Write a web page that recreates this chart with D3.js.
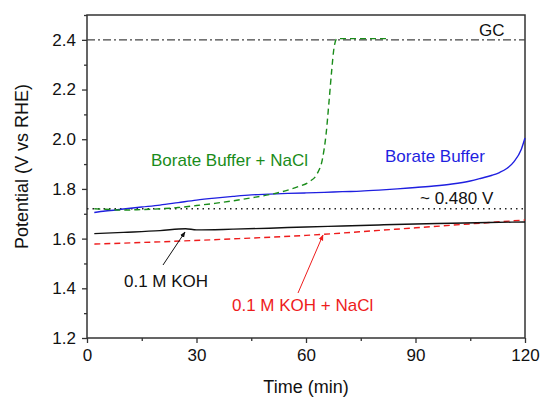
<!DOCTYPE html>
<html>
<head>
<meta charset="utf-8">
<script src="https://cdn.jsdelivr.net/npm/d3@7"></script>
<style>
  body { margin: 0; background: #fff; }
  text { font-family: "Liberation Sans", Arial, sans-serif; }
</style>
</head>
<body>
<div id="plot_area"></div>
<script>
// data
var kohTime   = [2, 10, 20, 27, 30, 40, 50, 60, 70, 80, 90, 100, 110, 120];
var kohValue  = [1.620, 1.625, 1.632, 1.640, 1.635, 1.638, 1.642, 1.647, 1.651, 1.655, 1.659, 1.662, 1.665, 1.667];

var kohNaclTime  = [2, 20, 40, 60, 80, 100, 120];
var kohNaclValue = [1.578, 1.587, 1.599, 1.613, 1.633, 1.654, 1.675];

var borateTime  = [2, 5, 10, 15, 20, 25, 30, 35, 40, 45, 50, 55, 60, 65, 70, 75, 80, 85, 90, 95, 100, 105, 108, 111, 113, 115, 117, 119, 120];
var borateValue = [1.705, 1.711, 1.719, 1.727, 1.735, 1.745, 1.755, 1.763, 1.770, 1.776, 1.779, 1.782, 1.784, 1.786, 1.789, 1.791, 1.795, 1.800, 1.806, 1.812, 1.820, 1.832, 1.843, 1.855, 1.866, 1.882, 1.910, 1.960, 2.005];

var borNaclTime  = [2, 5, 10, 15, 20, 25, 30, 35, 40, 45, 50, 55, 58, 61, 63, 64.5, 65.5, 66.3, 67, 67.7, 68.5, 70, 75, 80, 83];
var borNaclValue = [1.720, 1.718, 1.715, 1.717, 1.720, 1.725, 1.733, 1.742, 1.752, 1.764, 1.777, 1.795, 1.810, 1.830, 1.860, 1.920, 2.020, 2.150, 2.270, 2.370, 2.405, 2.405, 2.405, 2.405, 2.405];

var gcLevel = 2.4;
var refLevel = 1.72;

var xTicks = [0, 30, 60, 90, 120];
var yTicks = [1.2, 1.4, 1.6, 1.8, 2.0, 2.2, 2.4];

// set the dimensions and margins of the graph
var margin = {top: 15, right: 16, bottom: 61, left: 87},
    width = 541 - margin.left - margin.right,
    height = 399 - margin.top - margin.bottom;

var svg = d3.select("#plot_area")
  .append("svg")
    .attr("width", 541)
    .attr("height", 399)
  .append("g")
    .attr("transform", "translate(" + margin.left + "," + margin.top + ")");

var x = d3.scaleLinear().domain([0, 120]).range([0, width]);
var y = d3.scaleLinear().domain([1.2, 2.5]).range([height, 0]);

// minor ticks
svg.append("g")
  .attr("transform", "translate(0," + height + ")")
  .call(d3.axisBottom(x).tickValues([15, 45, 75, 105]).tickSize(3).tickFormat(""))
  .select(".domain").remove();
svg.append("g")
  .call(d3.axisLeft(y).tickValues([1.3, 1.5, 1.7, 1.9, 2.1, 2.3, 2.5]).tickSize(3).tickFormat(""))
  .select(".domain").remove();

// major ticks
var xAxis = svg.append("g")
  .attr("transform", "translate(0," + height + ")")
  .call(d3.axisBottom(x).tickValues(xTicks).tickSize(5).tickPadding(6).tickFormat(d3.format("d")));
var yAxis = svg.append("g")
  .call(d3.axisLeft(y).tickValues(yTicks).tickSize(5).tickPadding(6).tickFormat(d3.format(".1f")));

svg.selectAll(".tick text")
  .style("font-size", "17px")
  .style("font-family", "Liberation Sans, Arial, sans-serif")
  .attr("fill", "#111");
svg.selectAll(".tick line").attr("stroke", "#333").attr("stroke-width", 1.3);
svg.selectAll(".domain").remove();

// frame
svg.append("rect")
  .attr("width", width).attr("height", height)
  .attr("fill", "none").attr("stroke", "#333").attr("stroke-width", 1.5);

// reference lines
svg.append("line")
  .attr("x1", x(0)).attr("x2", x(120))
  .attr("y1", y(gcLevel)).attr("y2", y(gcLevel))
  .attr("stroke", "#444").attr("stroke-width", 1.3)
  .attr("stroke-dasharray", "8,3,2,3");
svg.append("line")
  .attr("x1", x(0)).attr("x2", x(120))
  .attr("y1", y(refLevel)).attr("y2", y(refLevel))
  .attr("stroke", "#222").attr("stroke-width", 1.4)
  .attr("stroke-dasharray", "1.5,4");

var line = d3.line()
  .x(function(d) { return x(d[0]); })
  .y(function(d) { return y(d[1]); })
  .curve(d3.curveMonotoneX);

function pairs(t, v) { return t.map(function(d, i) { return [d, v[i]]; }); }

var series = [
  {t: kohNaclTime, v: kohNaclValue, color: "#ee1c1c", dash: "6,4"},
  {t: kohTime, v: kohValue, color: "#111111", dash: null},
  {t: borateTime, v: borateValue, color: "#1f1fe0", dash: null},
  {t: borNaclTime, v: borNaclValue, color: "#1a8c1a", dash: "6,4"}
];

series.forEach(function(s) {
  svg.append("path")
    .datum(pairs(s.t, s.v))
    .attr("fill", "none")
    .attr("stroke", s.color)
    .attr("stroke-width", 1.4)
    .attr("stroke-dasharray", s.dash)
    .attr("d", line);
});

// arrow markers
var defs = d3.select("svg").append("defs");
[["arrBlack", "#111"], ["arrRed", "#ee1c1c"]].forEach(function(m) {
  defs.append("marker")
    .attr("id", m[0])
    .attr("viewBox", "0 0 10 10")
    .attr("refX", 9).attr("refY", 5)
    .attr("markerWidth", 6).attr("markerHeight", 6)
    .attr("orient", "auto")
    .append("path")
      .attr("d", "M0,1 L10,5 L0,9 z")
      .attr("fill", m[1]);
});

// annotations (page coordinates shifted into the plot group)
function ann(px, py, txt, color, anchor) {
  svg.append("text")
    .attr("x", px - margin.left).attr("y", py - margin.top)
    .attr("text-anchor", anchor || "start")
    .style("font-size", "17px")
    .attr("fill", color)
    .text(txt);
}
ann(151, 166, "Borate Buffer + NaCl", "#1a8c1a");
ann(385, 162, "Borate Buffer", "#1f1fe0");
ann(420, 204, "~ 0.480 V", "#111");
ann(479, 36, "GC", "#111");
ann(124, 287, "0.1 M KOH", "#111");
ann(232, 311, "0.1 M KOH + NaCl", "#ee1c1c");

svg.append("line")
  .attr("x1", 163 - margin.left).attr("y1", 265 - margin.top)
  .attr("x2", 185 - margin.left).attr("y2", 232 - margin.top)
  .attr("stroke", "#111").attr("stroke-width", 1)
  .attr("marker-end", "url(#arrBlack)");
svg.append("line")
  .attr("x1", 298 - margin.left).attr("y1", 293 - margin.top)
  .attr("x2", 323 - margin.left).attr("y2", 235 - margin.top)
  .attr("stroke", "#ee1c1c").attr("stroke-width", 1)
  .attr("marker-end", "url(#arrRed)");

// axis labels
svg.append("text")
  .attr("x", width / 2).attr("y", height + 55)
  .attr("text-anchor", "middle")
  .style("font-size", "18px")
  .attr("fill", "#111")
  .text("Time (min)");
svg.append("text")
  .attr("transform", "rotate(-90)")
  .attr("x", -height / 2 + 10).attr("y", -margin.left + 28)
  .attr("text-anchor", "middle")
  .style("font-size", "18px")
  .attr("fill", "#111")
  .text("Potential (V vs RHE)");
</script>
</body>
</html>
